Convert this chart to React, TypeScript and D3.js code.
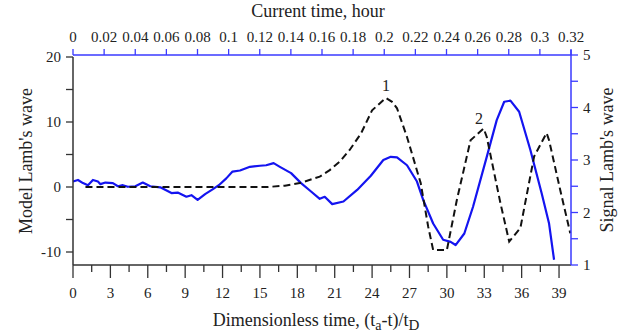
import React from 'react';
import * as d3 from 'd3';

// Model Lamb's wave (dashed, left axis): dimensionless time / value
const modelT = [1, 5, 10, 15.6, 17, 18.2, 19.8, 20.6, 21.4, 22.2, 23.1, 24.0, 25.1, 25.6, 26.0, 26.8, 27.9, 28.5, 28.9, 30.0, 30.8, 31.9, 32.95, 33.2, 34.3, 35.0, 35.9, 37.0, 38.0, 38.2, 39.1, 39.9];
const modelV = [0, 0, 0, 0, 0.2, 0.6, 1.6, 2.6, 3.9, 5.7, 8.2, 11.8, 13.7, 13.1, 12.1, 7.7, 0.6, -6.1, -9.7, -9.7, -2.0, 7.2, 9.0, 7.7, -2.5, -8.4, -6.3, 4.7, 8.3, 7.2, -0.5, -7.1];

// Signal Lamb's wave (solid blue, right axis)
const signalT = [0, 0.4, 0.8, 1.2, 1.6, 2.0, 2.2, 2.6, 3.2, 3.6, 4.0, 4.4, 5.0, 5.6, 6.2, 7.0, 7.9, 8.4, 9.1, 9.5, 10.0, 10.6, 11.2, 11.7, 12.3, 12.8, 13.4, 14.2, 15.0, 15.5, 16.1, 16.6, 17.5, 18.3, 19.1, 19.8, 20.2, 20.8, 21.7, 22.8, 23.9, 24.9, 25.5, 26.0, 26.8, 27.6, 28.1, 28.9, 29.7, 30.3, 30.7, 31.4, 32.1, 33.2, 34.0, 34.6, 35.1, 35.8, 36.7, 37.6, 38.2, 38.6];
const signalV = [2.59, 2.62, 2.56, 2.52, 2.62, 2.59, 2.54, 2.57, 2.56, 2.5, 2.52, 2.49, 2.5, 2.57, 2.5, 2.48, 2.37, 2.38, 2.3, 2.33, 2.24, 2.35, 2.44, 2.52, 2.65, 2.78, 2.8, 2.87, 2.89, 2.9, 2.94, 2.87, 2.75, 2.56, 2.4, 2.26, 2.3, 2.16, 2.21, 2.43, 2.7, 3.0, 3.06, 3.05, 2.9, 2.59, 2.24, 1.79, 1.48, 1.44, 1.38, 1.6, 2.11, 3.06, 3.76, 4.11, 4.13, 3.92, 3.19, 2.37, 1.79, 1.1];

const bottomLabels = [0, 3, 6, 9, 12, 15, 18, 21, 24, 27, 30, 33, 36, 39];
const bottomMinor = [1.5, 4.5, 7.5, 10.5, 13.5, 16.5, 19.5, 22.5, 25.5, 28.5, 31.5, 34.5, 37.5];
const topLabels = ['0', '0.02', '0.04', '0.06', '0.08', '0.1', '0.12', '0.14', '0.16', '0.18', '0.2', '0.22', '0.24', '0.26', '0.28', '0.3', '0.32'];
const leftLabels = [-10, 0, 10, 20];
const leftMinor = [-5, 5, 15];
const rightLabels = [1, 2, 3, 4, 5];
const rightMinor = [1.5, 2.5, 3.5, 4.5];

const BLUE = '#1414f0';
const AXBLUE = '#3a3aff';
const DARK = '#333';
const FONT = '"Liberation Serif", "Times New Roman", serif';

export default function App() {
  const x = d3.scaleLinear().domain([0, 40]).range([73, 571.5]);
  const xTop = d3.scaleLinear().domain([0, 0.32]).range([73, 571]);
  const yL = d3.scaleLinear().domain([-12, 20]).range([265, 57]);
  const yR = d3.scaleLinear().domain([1, 5]).range([265, 55]);

  const modelLine = d3.line<number>().x((_, i) => x(modelT[i])).y((v) => yL(v))(modelV) || '';
  const signalLine = d3.line<number>().x((_, i) => x(signalT[i])).y((v) => yR(v))(signalV) || '';

  const top = 55;
  const bottom = 265;
  const left = 73;
  const right = 571;

  return (
    <svg width={626} height={333} style={{ position: 'absolute', left: 0, top: 0, background: '#fff' }} fontFamily={FONT}>
      <rect width={626} height={333} fill="#fff" />
      {/* data */}
      <path d={signalLine} fill="none" stroke={BLUE} strokeWidth={2.2} strokeLinejoin="round" />
      <path d={modelLine} fill="none" stroke="#111" strokeWidth={2} strokeDasharray="7,4" />

      {/* left axis */}
      <line x1={left} x2={left} y1={yL(20)} y2={bottom} stroke={DARK} strokeWidth={1.5} />
      {leftLabels.concat(leftMinor).map((v) => (
        <line key={'lt' + v} x1={left - 7} x2={left} y1={yL(v)} y2={yL(v)} stroke={DARK} strokeWidth={1.3} />
      ))}
      {leftLabels.map((v) => (
        <text key={'ll' + v} x={61} y={yL(v)} dy="0.35em" textAnchor="end" fontSize={15} fill="#222">{v}</text>
      ))}
      <text transform={`translate(26,${(yL(20) + bottom) / 2}) rotate(-90)`} textAnchor="middle" dy="0.35em" fontSize={18} fill="#222">Model Lamb's wave</text>

      {/* bottom axis */}
      <line x1={left} x2={right} y1={bottom} y2={bottom} stroke={DARK} strokeWidth={1.5} />
      {bottomLabels.map((v) => (
        <line key={'bt' + v} x1={x(v)} x2={x(v)} y1={bottom} y2={bottom + 13} stroke={DARK} strokeWidth={1.3} />
      ))}
      {bottomMinor.map((v) => (
        <line key={'bm' + v} x1={x(v)} x2={x(v)} y1={bottom} y2={bottom + 7} stroke={DARK} strokeWidth={1.3} />
      ))}
      {bottomLabels.map((v) => (
        <text key={'bl' + v} x={x(v)} y={298} textAnchor="middle" fontSize={15} fill="#222">{v}</text>
      ))}
      <text x={316} y={326} textAnchor="middle" fontSize={18} fill="#222">
        Dimensionless time, (t<tspan fontSize={14} dy={4}>a</tspan><tspan dy={-4}>-t)/t</tspan><tspan fontSize={15} dy={4}>D</tspan>
      </text>

      {/* top axis */}
      <line x1={left} x2={right} y1={top} y2={top} stroke={AXBLUE} strokeWidth={1.5} />
      {topLabels.map((s) => (
        <line key={'tt' + s} x1={xTop(+s)} x2={xTop(+s)} y1={top} y2={top - 6} stroke={AXBLUE} strokeWidth={1.3} />
      ))}
      {topLabels.map((s) => (
        <text key={'tl' + s} x={xTop(+s)} y={42} textAnchor="middle" fontSize={15} fill="#222">{s}</text>
      ))}
      <text x={318} y={17} textAnchor="middle" fontSize={18} fill="#222">Current time, hour</text>

      {/* right axis */}
      <line x1={right} x2={right} y1={top - 5} y2={bottom} stroke={AXBLUE} strokeWidth={1.5} />
      {rightLabels.concat(rightMinor).map((v) => (
        <line key={'rt' + v} x1={right} x2={right + 7} y1={yR(v)} y2={yR(v)} stroke={AXBLUE} strokeWidth={1.3} />
      ))}
      {rightLabels.map((v) => (
        <text key={'rl' + v} x={583} y={yR(v)} dy="0.35em" textAnchor="start" fontSize={15} fill="#222">{v}</text>
      ))}
      <text transform={`translate(607,${(top + bottom) / 2}) rotate(-90)`} textAnchor="middle" dy="0.35em" fontSize={18} fill="#222">Signal Lamb's wave</text>

      {/* curve labels */}
      <text x={386} y={85} dy="0.35em" textAnchor="middle" fontSize={16} fill="#222">1</text>
      <text x={479} y={118} dy="0.35em" textAnchor="middle" fontSize={16} fill="#222">2</text>
    </svg>
  );
}
